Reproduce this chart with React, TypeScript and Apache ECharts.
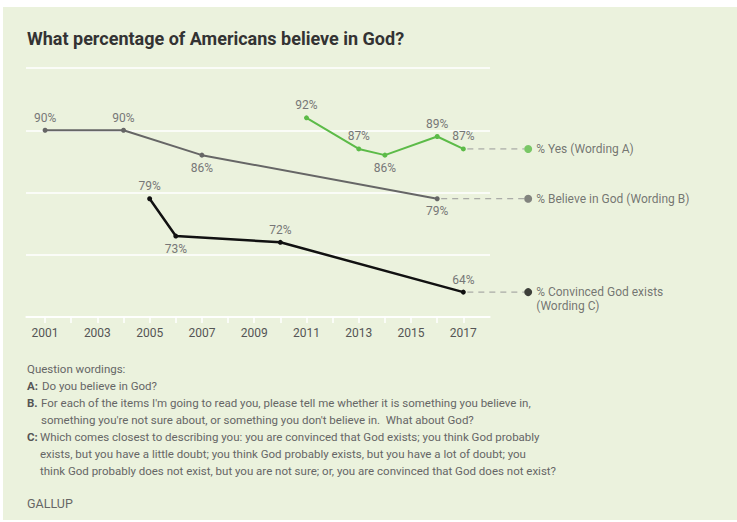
import React, { useEffect, useRef } from "react";
import * as echarts from "echarts";

const TITLE = "What percentage of Americans believe in God?";

const yearsA = [2011, 2013, 2014, 2016, 2017];
const valuesA = [92, 87, 86, 89, 87];
const labelPosA = ["top", "top", "bottom", "top", "top"];

const yearsB = [2001, 2004, 2007, 2016];
const valuesB = [90, 90, 86, 79];
const labelPosB = ["top", "top", "bottom", "bottom"];

const yearsC = [2005, 2006, 2010, 2017];
const valuesC = [79, 73, 72, 64];
const labelPosC = ["top", "bottom", "top", "top"];

const seriesNames = [
  "% Yes (Wording A)",
  "% Believe in God (Wording B)",
  "% Convinced God exists\n(Wording C)",
];

const tickYears = [2001, 2002, 2003, 2004, 2005, 2006, 2007, 2008, 2009, 2010, 2011, 2012, 2013, 2014, 2015, 2016, 2017];
const labelYears = [2001, 2003, 2005, 2007, 2009, 2011, 2013, 2015, 2017];

const LEGEND_X = 2019.48;

const noteLines: [string, string, number, number][] = [
  ["", "Question wordings:", 0, 369],
  ["A:", "Do you believe in God?", 15, 386],
  ["B.", "For each of the items I'm going to read you, please tell me whether it is something you believe in,", 14, 403],
  ["", "something you're not sure about, or something you don't believe in.  What about God?", 14, 420],
  ["C:", "Which comes closest to describing you: you are convinced that God exists; you think God probably", 13, 437],
  ["", "exists, but you have a little doubt; you think God probably exists, but you have a lot of doubt; you", 13, 454],
  ["", "think God probably does not exist, but you are not sure; or, you are convinced that God does not exist?", 13, 471],
];

const FONT = "Roboto, 'Noto Sans', sans-serif";

export default function App() {
  const ref = useRef<HTMLDivElement>(null);
  useEffect(() => {
    document.body.style.margin = "0";
    const chart = echarts.init(ref.current!, null, { renderer: "svg" });

    const mkData = (xs: number[], ys: number[], pos: string[]) =>
      xs.map((x, i) => ({ value: [x, ys[i]], label: { position: pos[i] } }));

    const colors = ["#5cbb48", "#666666", "#111111"];
    const mains = [
      { xs: yearsA, ys: valuesA, pos: labelPosA, w: 2 },
      { xs: yearsB, ys: valuesB, pos: labelPosB, w: 2 },
      { xs: yearsC, ys: valuesC, pos: labelPosC, w: 2.5 },
    ];

    const series: any[] = [];
    mains.forEach((m, i) => {
      series.push({
        type: "line",
        name: seriesNames[i],
        data: mkData(m.xs, m.ys, m.pos),
        symbol: "circle",
        symbolSize: 5,
        showSymbol: true,
        lineStyle: { color: colors[i], width: m.w },
        itemStyle: { color: colors[i] },
        label: {
          show: true,
          formatter: (p: any) => p.value[1] + "%",
          color: "#777",
          fontSize: 12,
          fontFamily: FONT,
          distance: 4,
        },
        z: 3,
      });
      const lastY = m.ys[m.ys.length - 1];
      series.push({
        type: "scatter",
        name: seriesNames[i] + " key",
        clip: false,
        data: [
          {
            value: [LEGEND_X, lastY],
            label: {
              show: true,
              position: "right",
              distance: 4,
              formatter: seriesNames[i],
              color: "#555",
              fontSize: 12,
              fontFamily: FONT,
              lineHeight: 14,
              offset: i === 2 ? [0, 7] : [0, 0],
            },
          },
        ],
        symbol: "circle",
        symbolSize: 8,
        itemStyle: { color: colors[i] },
        z: 3,
      });
    });

    const baseGraphics: any[] = [
      {
        type: "rect",
        shape: { x: 3, y: 7, width: 734, height: 513 },
        style: { fill: "#ebf2dd" },
        z: -10,
        silent: true,
      },
      {
        type: "text",
        x: 27,
        y: 38,
        style: {
          text: TITLE,
          font: "bold 18px " + FONT,
          fill: "#333",
          textVerticalAlign: "middle",
        },
      },
      {
        type: "text",
        x: 27,
        y: 503,
        style: {
          text: "GALLUP",
          font: "12.5px " + FONT,
          fill: "#666",
          textVerticalAlign: "middle",
        },
      },
    ];
    noteLines.forEach(([lead, txt, off, y]) => {
      if (lead) {
        baseGraphics.push({
          type: "text",
          x: 27,
          y,
          style: { text: lead, font: "bold 11.5px " + FONT, fill: "#555", textVerticalAlign: "middle" },
        });
      }
      baseGraphics.push({
        type: "text",
        x: 27 + off,
        y,
        style: { text: txt, font: "11.5px " + FONT, fill: "#666", textVerticalAlign: "middle" },
      });
    });

    chart.setOption({
      animation: false,
      backgroundColor: "#ffffff",
      grid: { left: 26, top: 68, width: 464, height: 249, containLabel: false },
      xAxis: {
        type: "value",
        min: 2000.27,
        max: 2018.02,
        axisLine: { show: true, lineStyle: { color: "#ffffff", width: 1.5 } },
        axisTick: {
          show: true,
          customValues: tickYears,
          length: 6,
          lineStyle: { color: "#ffffff", width: 1.5 },
        },
        axisLabel: {
          customValues: labelYears,
          formatter: (v: number) => String(Math.round(v)),
          color: "#555",
          fontSize: 12,
          fontFamily: FONT,
          margin: 10,
        },
        splitLine: { show: false },
      },
      yAxis: {
        type: "value",
        min: 60,
        max: 100,
        interval: 10,
        axisLine: { show: false },
        axisTick: { show: false },
        axisLabel: { show: false },
        splitLine: { show: true, lineStyle: { color: "#ffffff", width: 1.5 } },
      },
      series,
      graphic: baseGraphics,
    });

    // dashed leader lines from each series' last point to its key dot
    const leaders: any[] = mains.map((m) => {
      const lastX = m.xs[m.xs.length - 1];
      const lastY = m.ys[m.ys.length - 1];
      const p1 = chart.convertToPixel({ gridIndex: 0 }, [lastX, lastY]) as number[];
      const p2 = chart.convertToPixel({ gridIndex: 0 }, [LEGEND_X, lastY]) as number[];
      return {
        type: "line",
        shape: { x1: p1[0] + 4, y1: p1[1], x2: p2[0] - 4, y2: p2[1] },
        style: { stroke: "#999", lineWidth: 1, lineDash: [6, 5] },
        silent: true,
        z: 1,
      };
    });
    chart.setOption({ graphic: baseGraphics.concat(leaders) });

    return () => chart.dispose();
  }, []);
  return <div ref={ref} style={{ width: 737, height: 522 }} />;
}
